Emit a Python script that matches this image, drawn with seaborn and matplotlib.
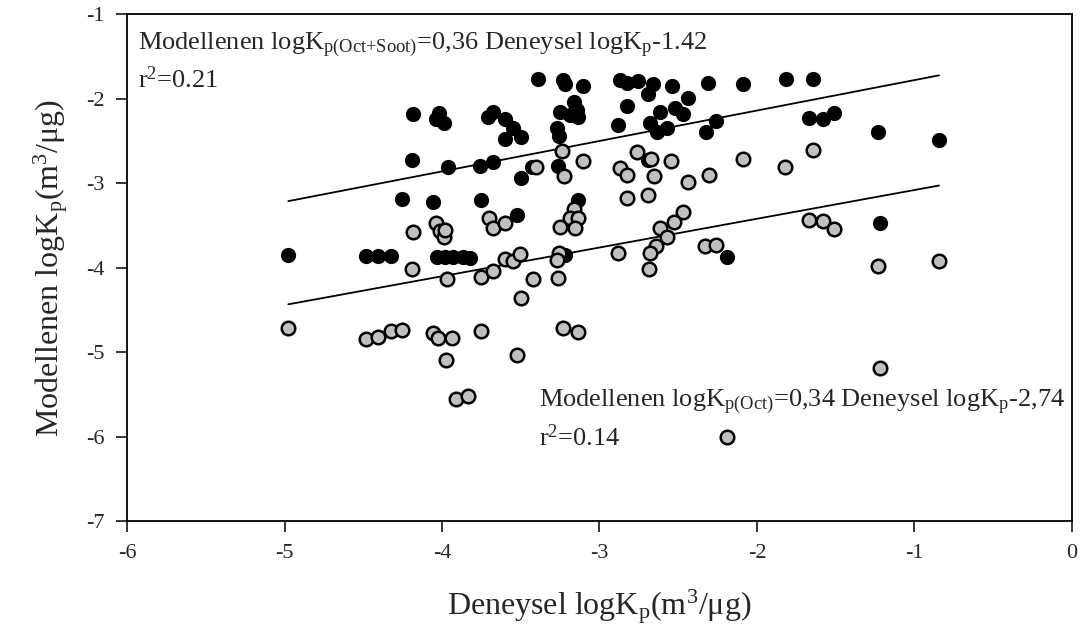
import matplotlib
matplotlib.use("Agg")
import matplotlib.pyplot as plt
import numpy as np
import pandas as pd
import seaborn as sns

# Experimental vs. modelled logKp, octanol+soot model (filled black)
soot_x = [-4.182, -4.02, -4.04, -3.99, -4.19, -3.964, -4.256, -4.055, -4.976, -4.483,
          -4.404, -4.326, -4.034, -3.981, -3.928, -3.865, -3.822, -3.392, -3.234, -3.219,
          -3.107, -2.87, -2.827, -2.757, -2.658, -2.69, -2.542, -2.44, -2.31, -2.087,
          -3.674, -3.706, -3.6, -3.547, -3.5, -3.6, -3.25, -3.16, -3.187, -3.135,
          -3.145, -3.268, -3.255, -2.823, -2.88, -2.616, -2.52, -2.468, -2.68, -2.637,
          -2.569, -2.26, -2.326, -3.759, -3.674, -3.5, -3.43, -3.266, -2.69, -3.754,
          -3.135, -3.522, -2.189, -3.219, -1.818, -1.642, -1.667, -1.579, -1.509, -1.234,
          -0.844, -1.219]
soot_y = [-2.186, -2.17, -2.24, -2.29, -2.726, -2.805, -3.187, -3.218, -3.849, -3.861,
          -3.861, -3.861, -3.87, -3.87, -3.87, -3.87, -3.888, -1.768, -1.78, -1.827,
          -1.847, -1.78, -1.82, -1.79, -1.827, -1.95, -1.847, -1.99, -1.82, -1.83,
          -2.155, -2.221, -2.245, -2.351, -2.45, -2.477, -2.155, -2.037, -2.194, -2.221,
          -2.135, -2.351, -2.442, -2.087, -2.312, -2.155, -2.115, -2.182, -2.292, -2.399,
          -2.344, -2.265, -2.391, -2.793, -2.745, -2.942, -2.805, -2.797, -2.726, -3.199,
          -3.199, -3.376, -3.876, -3.849, -1.768, -1.772, -2.233, -2.241, -2.167, -2.391,
          -2.489, -3.474]

# Experimental vs. modelled logKp, octanol-only model (grey)
oct_x = [-4.182, -4.04, -4.01, -3.99, -3.98, -4.19, -3.966, -4.976, -4.483, -4.404,
         -4.326, -4.256, -4.055, -4.023, -3.935, -3.977, -3.913, -3.833, -3.4, -2.67,
         -3.236, -3.107, -3.223, -2.764, -2.546, -2.087, -2.87, -2.827, -2.652, -2.44,
         -2.305, -2.827, -2.69, -3.7, -3.674, -3.6, -3.162, -3.187, -3.135, -3.25,
         -3.156, -2.468, -2.525, -2.616, -2.569, -2.642, -2.68, -2.686, -2.885, -2.33,
         -2.26, -3.754, -3.674, -3.6, -3.547, -3.505, -3.42, -3.255, -3.272, -3.262,
         -3.5, -3.754, -3.23, -3.135, -3.522, -1.642, -1.822, -1.667, -1.579, -1.509,
         -1.234, -0.844, -1.219, -2.189]
oct_y = [-3.58, -3.47, -3.57, -3.63, -3.55, -4.018, -4.132, -4.715, -4.845, -4.814,
         -4.743, -4.735, -4.775, -4.834, -4.826, -5.09, -5.551, -5.515, -2.805, -2.718,
         -2.616, -2.738, -2.915, -2.635, -2.734, -2.718, -2.824, -2.903, -2.915, -2.99,
         -2.903, -3.171, -3.14, -3.415, -3.526, -3.467, -3.309, -3.415, -3.415, -3.514,
         -3.526, -3.344, -3.462, -3.533, -3.632, -3.742, -3.822, -4.014, -3.829, -3.742,
         -3.73, -4.112, -4.038, -3.9, -3.92, -3.837, -4.132, -3.829, -3.908, -4.116,
         -4.353, -4.743, -4.715, -4.755, -5.031, -2.608, -2.805, -3.435, -3.443, -3.545,
         -3.979, -3.92, -5.188, -6.003]

# Regression coefficients (slope, intercept)
fit_soot = (0.36, -1.42)
fit_oct = (0.34, -2.74)

x_ticks = [-6, -5, -4, -3, -2, -1, 0]
y_ticks = [-7, -6, -5, -4, -3, -2, -1]

sns.set_style("ticks")
plt.rcParams["font.family"] = ["Liberation Serif", "DejaVu Serif"]
plt.rcParams["mathtext.fontset"] = "custom"
plt.rcParams["mathtext.rm"] = "Liberation Serif"
plt.rcParams["mathtext.it"] = "Liberation Serif:italic"
plt.rcParams["mathtext.bf"] = "Liberation Serif:bold"
plt.rcParams["axes.unicode_minus"] = False

fig, ax = plt.subplots(figsize=(10.86, 6.43), dpi=100)
fig.subplots_adjust(left=0.117, right=0.987, top=0.978, bottom=0.189)

df_soot = pd.DataFrame({"x": soot_x, "y": soot_y})
df_oct = pd.DataFrame({"x": oct_x, "y": oct_y})

sns.scatterplot(data=df_soot, x="x", y="y", ax=ax, color="black", edgecolor="black",
                s=95, linewidth=1.2, zorder=3)
sns.scatterplot(data=df_oct, x="x", y="y", ax=ax, color="#c0c0c0", edgecolor="black",
                s=95, linewidth=1.8, zorder=4)

# Regression lines over the range of the experimental values
xs = np.array([min(soot_x), max(soot_x)])
ax.plot(xs, fit_soot[0] * xs + fit_soot[1], color="black", lw=1.3, zorder=2)
xs2 = np.array([min(oct_x), max(oct_x)])
ax.plot(xs2, fit_oct[0] * xs2 + fit_oct[1], color="black", lw=1.3, zorder=2)

ax.set_xlim(-6, 0)
ax.set_ylim(-7, -1)
ax.set_xticks(x_ticks)
ax.set_yticks(y_ticks)
ax.set_xticklabels([str(t) for t in x_ticks])
ax.set_yticklabels([str(t) for t in y_ticks])
ax.tick_params(direction="out", length=8, width=1.3, labelsize=16, pad=8)
for sp in ax.spines.values():
    sp.set_visible(True)
    sp.set_linewidth(1.3)
    sp.set_color("black")

ax.set_xlabel(r"Deneysel logK$_\mathrm{p}$(m$^3$/μg)", fontsize=23, labelpad=18)
ax.set_ylabel(r"Modellenen logK$_\mathrm{p}$(m$^3$/μg)", fontsize=23, labelpad=12)

ann = 19
ax.text(-5.93, -1.417,
        r"Modellenen logK$_\mathrm{p(Oct{+}Soot)}$=0,36 Deneysel logK$_\mathrm{p}$-1.42",
        fontsize=ann, va="baseline", ha="left")
ax.text(-5.93, -1.878, r"r$^2$=0.21", fontsize=ann, va="baseline", ha="left")
ax.text(-3.384, -5.642,
        r"Modellenen logK$_\mathrm{p(Oct)}$=0,34 Deneysel logK$_\mathrm{p}$-2,74",
        fontsize=ann, va="baseline", ha="left")
ax.text(-3.384, -6.103, r"r$^2$=0.14", fontsize=ann, va="baseline", ha="left")

fig.savefig("out.png", dpi=100)
